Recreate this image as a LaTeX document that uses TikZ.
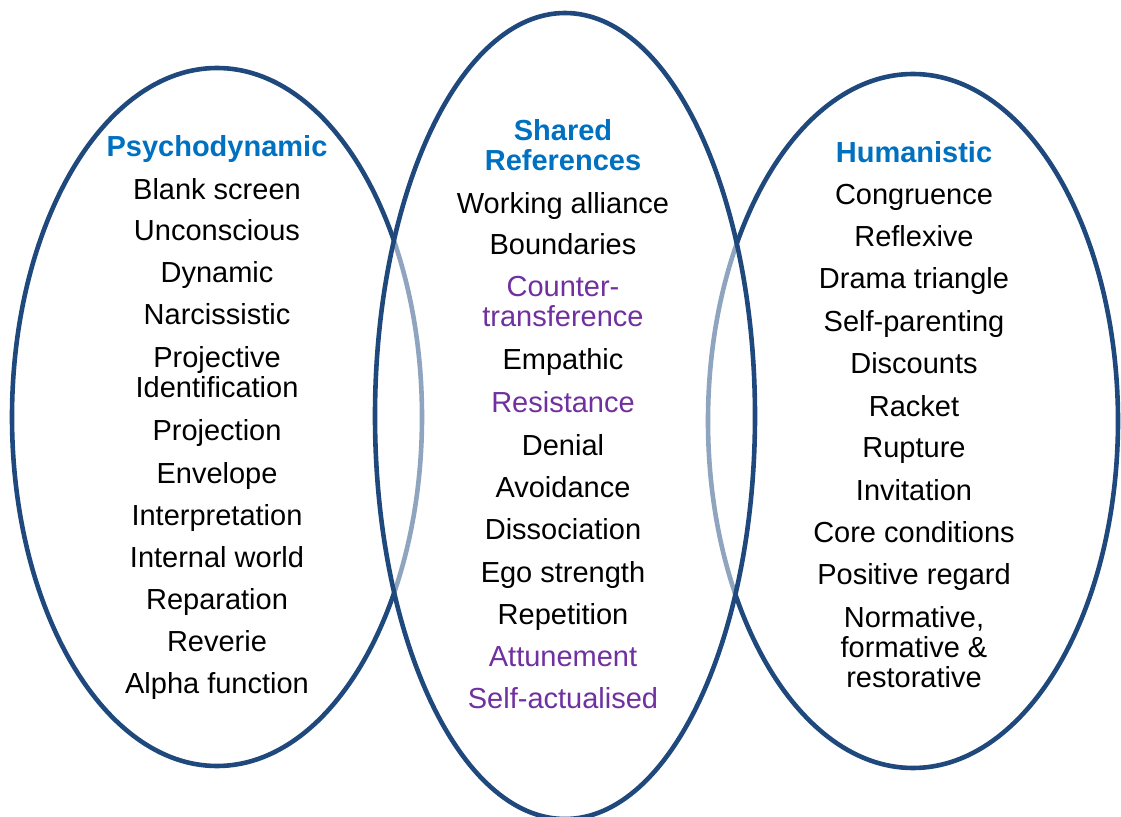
\documentclass[tikz,border=0pt]{standalone}
\usepackage{fontspec}
\setmainfont{Liberation Sans}
\usepackage{tikz}

\definecolor{ringblue}{RGB}{31,73,125}
\definecolor{headblue}{RGB}{0,112,192}
\definecolor{itempurple}{RGB}{112,48,160}

\begin{document}
\begin{tikzpicture}[x = 0.5pt, y = 0.5pt,
                        ring/.style = {draw = ringblue, line width = 2.3pt},
                        item/.style = {anchor = base, align = center, inner sep = 0pt,
                                       font = \fontsize{14.5}{15}\selectfont},
                        head/.style = {item, text = headblue, font = \fontsize{14.5}{15.5}\selectfont\bfseries},
                        pur/.style = {item, text = itempurple}]
      \useasboundingbox (0, 0) rectangle (1121, 816);

      % the three rings, the middle one veils the others
      \draw [ring] (217, 399) ellipse [x radius = 205, y radius = 349];
      \draw [ring] (913, 395) ellipse [x radius = 205, y radius = 347];
      \draw [ring, fill = white, fill opacity = 0.5] (565, 400) ellipse [x radius = 190, y radius = 403];

      % left ring (multi-line texts sit on their last line)
      \node [head] (ps0) at (217, 659){Psychodynamic};
      \foreach \y/\txt [count = \k] in {617/Blank screen, 575/Unconscious, 533/Dynamic,
          491/Narcissistic, 419/{Projective\\Identification}, 376/Projection, 333/Envelope,
          291/Interpretation, 249/Internal world, 207/Reparation, 165/Reverie, 123/Alpha function}
        \node [item] (ps\k) at (217, \y){\txt};

      % middle ring
      \node [head] (sh0) at (563, 645){Shared\\References};
      \foreach \y/\txt/\sty [count = \k] in {603/Working alliance/item, 561/Boundaries/item,
          489/{Counter-\\transference}/pur, 446/Empathic/item, 404/Resistance/pur,
          361/Denial/item, 319/Avoidance/item, 277/Dissociation/item, 234/Ego strength/item,
          192/Repetition/item, 150/Attunement/pur, 108/Self-actualised/pur}
        \node [\sty] (sh\k) at (563, \y){\txt};

      % right ring
      \node [head] (hu0) at (914, 653){Humanistic};
      \foreach \y/\txt [count = \k] in {611/Congruence, 569/Reflexive, 527/Drama triangle,
          484/Self-parenting, 443/Discounts, 400/Racket, 358/Rupture, 316/Invitation,
          274/Core conditions, 232/Positive regard, 129/{Normative,\\formative \&\\restorative}}
        \node [item] (hu\k) at (914, \y){\txt};

      \end{tikzpicture}
\end{document}
